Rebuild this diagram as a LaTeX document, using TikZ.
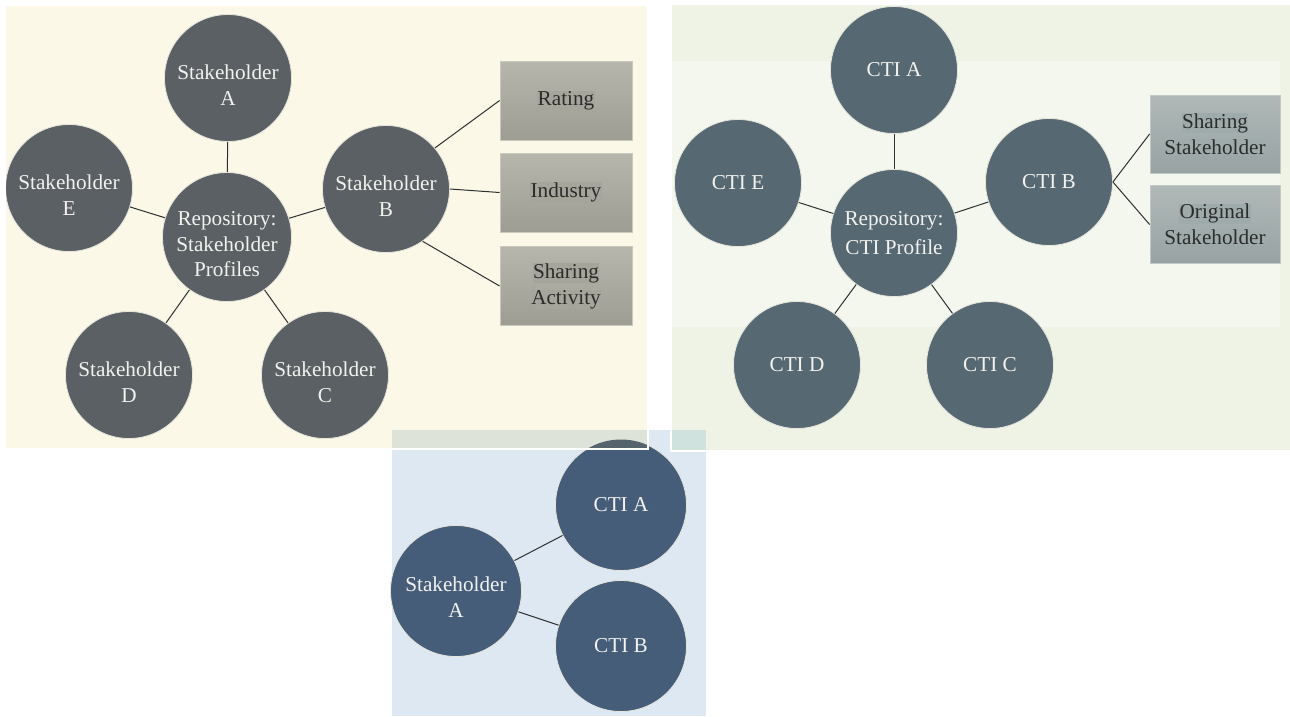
\documentclass[tikz,border=0pt]{standalone}
\usepackage{fontspec}
\setmainfont{Liberation Serif}
\definecolor{yellowbg}{HTML}{FBF8E8}
\definecolor{greenbg}{HTML}{EEF3E6}
\definecolor{greenin}{HTML}{F4F7EE}
\definecolor{bluebg}{HTML}{DDE8F3}
\definecolor{ovY}{HTML}{DEE3D9}
\definecolor{ovG}{HTML}{CFE2DE}
\definecolor{leftcirc}{HTML}{5A6064}
\definecolor{rightcirc}{HTML}{566872}
\definecolor{bluecirc}{HTML}{465D7A}
\definecolor{ovcirc}{HTML}{55636C}
\definecolor{circedge}{HTML}{E6E6DC}
\definecolor{circtext}{HTML}{F2F2EE}
\definecolor{lbtop}{HTML}{B7B6AC}
\definecolor{lbbot}{HTML}{9E9D94}
\definecolor{lbedge}{HTML}{C9C8BC}
\definecolor{lbhl}{HTML}{A6A59B}
\definecolor{rbtop}{HTML}{B0B9B8}
\definecolor{rbbot}{HTML}{98A2A2}
\definecolor{rbedge}{HTML}{C2CAC8}
\definecolor{rbhl}{HTML}{9FABAA}
\definecolor{boxtext}{HTML}{2B2B2B}
\definecolor{linec}{HTML}{2E3032}
\newcommand{\hlL}[1]{{\setlength{\fboxsep}{0.5pt}\colorbox{lbhl}{#1}}}
\newcommand{\hlR}[1]{{\setlength{\fboxsep}{0.5pt}\colorbox{rbhl}{#1}}}
\newcommand{\dnstrut}{\rule{0pt}{29pt}}
\tikzset{
  circbase/.style={circle, minimum size=127pt, inner sep=0pt, draw=circedge, line width=0.8pt,
    text=circtext, align=center, font=\fontsize{21.2}{25.5}\selectfont},
  lcirc/.style={circbase, fill=leftcirc},
  rcirc/.style={circbase, fill=rightcirc},
  bcirc/.style={circbase, fill=bluecirc, minimum size=131pt},
  lbox/.style={rectangle, minimum width=132pt, minimum height=79pt, inner sep=0pt,
    top color=lbtop, bottom color=lbbot, draw=lbedge, line width=0.8pt, text=boxtext,
    align=center, font=\fontsize{21.2}{26}\selectfont},
  rbox/.style={rectangle, minimum width=130pt, minimum height=78pt, inner sep=0pt,
    top color=rbtop, bottom color=rbbot, draw=rbedge, line width=0.8pt, text=boxtext,
    align=center, font=\fontsize{21.2}{26}\selectfont},
  conn/.style={draw=linec, line width=1pt},
  panel/.style={draw=white, line width=2pt}
}
\begin{document}
\begin{tikzpicture}[x=1pt,y=-1pt]
\useasboundingbox (0,0) rectangle (1290,716);
\fill[white] (0,0) rectangle (1290,716);
% panels
\fill[yellowbg] (5,5) rectangle (647,448);
\fill[greenbg] (672,5) rectangle (1290,450);
\fill[greenin] (672,61) rectangle (1280,327);
\fill[bluebg] (392,430) rectangle (706,716);

% ---------- left panel ----------
\node[lcirc] (sA) at (228,78) {\dnstrut Stakeholder\\A};
\node[lcirc] (sE) at (69,188) {\dnstrut Stakeholder\\E};
\node[lcirc] (repL) at (227,237) {\dnstrut Repository:\\Stakeholder\\Profiles};
\node[lcirc] (sB) at (386,189) {\dnstrut Stakeholder\\B};
\node[lcirc] (sD) at (129,375) {\dnstrut Stakeholder\\D};
\node[lcirc] (sC) at (325,375) {\dnstrut Stakeholder\\C};
\node[lbox] (rating) at (566,100.5) {\hlL{Rating}};
\node[lbox] (industry) at (566,192.5) {\hlL{Industry}};
\node[lbox] (sharing) at (566,286) {\hlL{Sharing}\\\hlL{Activity}};
\draw[conn] (sA) -- (repL);
\draw[conn] (sE) -- (repL);
\draw[conn] (sB) -- (repL);
\draw[conn] (sD) -- (repL);
\draw[conn] (sC) -- (repL);
\draw[conn] (sB.40) -- (rating.west);
\draw[conn] (sB.east) -- (industry.west);
\draw[conn] (sB.-55) -- (sharing.west);

% ---------- right panel ----------
\node[rcirc] (cA) at (894,70) {CTI A};
\node[rcirc] (cE) at (738,183) {CTI E};
\node[rcirc] (repR) at (894,233) {Repository:\\[3pt]CTI Profile};
\node[rcirc] (cB) at (1049,182) {CTI B};
\node[rcirc] (cD) at (797,365) {CTI D};
\node[rcirc] (cC) at (990,365) {CTI C};
\node[rbox] (sstake) at (1215,134) {\hlR{Sharing}\\\hlR{Stakeholder}};
\node[rbox] (ostake) at (1215,224.5) {\hlR{Original}\\\hlR{Stakeholder}};
\draw[conn] (cA) -- (repR);
\draw[conn] (cE) -- (repR);
\draw[conn] (cB) -- (repR);
\draw[conn] (cD) -- (repR);
\draw[conn] (cC) -- (repR);
\draw[conn] (cB.east) -- (sstake.west);
\draw[conn] (cB.east) -- (ostake.west);

% ---------- bottom panel ----------
\node[bcirc] (bS) at (456,591) {\rule{0pt}{27pt}Stakeholder\\A};
\node[bcirc] (bA) at (621,505) {CTI A};
\node[bcirc] (bB) at (621,646) {CTI B};
\draw[conn] (bS) -- (bA);
\draw[conn] (bS) -- (bB);

% overlaps
\fill[ovY] (392,430) rectangle (647,448);
\fill[ovG] (672,430) rectangle (706,450);
\begin{scope}
  \clip (392,430) rectangle (647,448);
  \fill[ovcirc] (621,505) circle (65.5pt);
\end{scope}
\draw[panel] (5,5) rectangle (648,449);
\draw[panel] (671,4) rectangle (1291,451);
\end{tikzpicture}
\end{document}
